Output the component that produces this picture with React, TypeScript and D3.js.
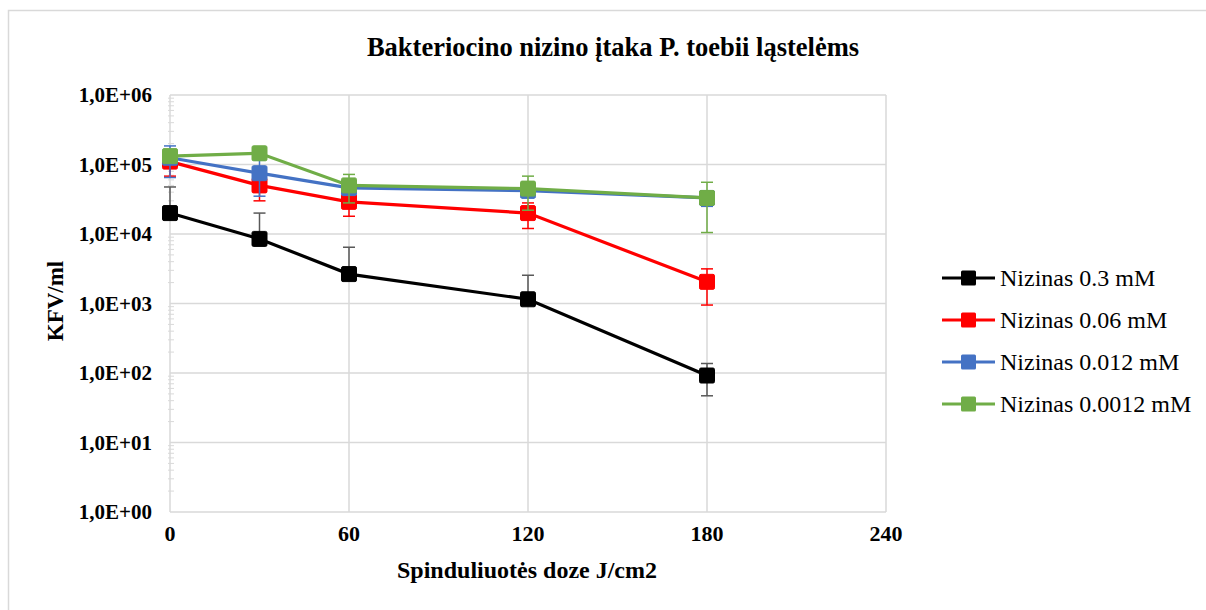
import React from "react";
import * as d3 from "d3";

const doses = [0, 30, 60, 120, 180];
const seriesNames = ["Nizinas 0.3 mM", "Nizinas 0.06 mM", "Nizinas 0.012 mM", "Nizinas 0.0012 mM"];
const seriesColors = ["#000000", "#FF0000", "#4472C4", "#70AD47"];
const errColors = ["#595959", "#FF0000", "#4472C4", "#70AD47"];
const v03 = [20000, 8500, 2650, 1150, 92];
const e03 = [27500, 11500, 3800, 1400, 45];
const v006 = [110000, 50000, 29000, 20000, 2050];
const e006 = [42000, 20000, 11000, 8000, 1100];
const v0012 = [125000, 75000, 46000, 42000, 33000];
const e0012 = [60000, 40000, 10000, 9000, 8000];
const v00012 = [132000, 145000, 50000, 45000, 33000];
const e00012 = [20000, 20000, 22000, 23000, 22500];
const yTicks = [1, 10, 100, 1000, 10000, 100000, 1000000];
const yTickLabels = ["1,0E+00", "1,0E+01", "1,0E+02", "1,0E+03", "1,0E+04", "1,0E+05", "1,0E+06"];
const xTicks = [0, 60, 120, 180, 240];

const values = [v03, v006, v0012, v00012];
const errors = [e03, e006, e0012, e00012];

export default function App() {
  const W = 1206, H = 610;
  const left = 170, right = 886, top = 95, bottom = 512;
  const x = d3.scaleLinear().domain([0, 240]).range([left, right]);
  const y = d3.scaleLog().domain([1, 1000000]).range([bottom, top]);
  const font = "'Liberation Serif', 'Times New Roman', serif";
  const minor: number[] = [];
  for (let p = 0; p < 6; p++) for (let k = 2; k <= 9; k++) minor.push(k * Math.pow(10, p));
  const ms = 15;
  return (
    <svg width={W} height={H} style={{ position: "absolute", left: 0, top: 0 }}>
      <rect x={0} y={0} width={W} height={H} fill="#fff" />
      <rect x={8.5} y={10.5} width={1210} height={620} fill="#fff" stroke="#d9d9d9" strokeWidth={1.5} />
      <text x={613} y={56} textAnchor="middle" fontFamily={font} fontWeight="bold" fontSize={26.5}>
        Bakteriocino nizino įtaka P. toebii ląstelėms
      </text>
      {yTicks.map(t => (
        <line key={"gy" + t} x1={left} x2={right} y1={y(t)} y2={y(t)} stroke="#d9d9d9" strokeWidth={1.5} />
      ))}
      {xTicks.map(t => (
        <line key={"gx" + t} x1={x(t)} x2={x(t)} y1={top} y2={bottom} stroke="#d9d9d9" strokeWidth={1.5} />
      ))}
      {minor.map(t => (
        <line key={"m" + t} x1={left - 2} x2={left + 4} y1={y(t)} y2={y(t)} stroke="#d9d9d9" strokeWidth={1} />
      ))}
      {yTicks.map((t, i) => (
        <text key={"ty" + t} x={152} y={y(t)} dy="0.35em" textAnchor="end" fontFamily={font} fontWeight="bold" fontSize={21}>
          {yTickLabels[i]}
        </text>
      ))}
      {xTicks.map(t => (
        <text key={"tx" + t} x={x(t)} y={541} textAnchor="middle" fontFamily={font} fontWeight="bold" fontSize={22}>
          {t}
        </text>
      ))}
      <text x={527} y={578} textAnchor="middle" fontFamily={font} fontWeight="bold" fontSize={24}>
        Spinduliuotės doze J/cm2
      </text>
      <text transform={`translate(63,301) rotate(-90)`} textAnchor="middle" fontFamily={font} fontWeight="bold" fontSize={23}>
        KFV/ml
      </text>
      {values.map((vals, si) => {
        const path = d3.line<number>().x((_, i) => x(doses[i])).y(d => y(d))(vals) || "";
        return (
          <g key={"s" + si}>
            {vals.map((v, i) => {
              const e = errors[si][i];
              const cx = x(doses[i]);
              const yt = y(v + e);
              const hasLow = v - e > 0;
              const yb = hasLow ? y(v - e) : y(v);
              return (
                <g key={"e" + i} stroke={errColors[si]} strokeWidth={1.5}>
                  <line x1={cx} x2={cx} y1={yt} y2={yb} />
                  <line x1={cx - 6} x2={cx + 6} y1={yt} y2={yt} />
                  {hasLow && <line x1={cx - 6} x2={cx + 6} y1={yb} y2={yb} />}
                </g>
              );
            })}
            <path d={path} fill="none" stroke={seriesColors[si]} strokeWidth={3.2} />
            {vals.map((v, i) => (
              <rect key={"p" + i} x={x(doses[i]) - ms / 2} y={y(v) - ms / 2} width={ms} height={ms} rx={1.5}
                fill={seriesColors[si]} stroke={seriesColors[si]} strokeWidth={1} />
            ))}
          </g>
        );
      })}
      {seriesNames.map((n, i) => {
        const ly = 278 + i * 42;
        return (
          <g key={"l" + i}>
            <line x1={942} x2={995} y1={ly} y2={ly} stroke={seriesColors[i]} strokeWidth={3.2} />
            <rect x={968.5 - ms / 2} y={ly - ms / 2} width={ms} height={ms} rx={1.5} fill={seriesColors[i]} />
            <text x={1000} y={ly} dy="0.35em" fontFamily={font} fontSize={24}>{n}</text>
          </g>
        );
      })}
    </svg>
  );
}
